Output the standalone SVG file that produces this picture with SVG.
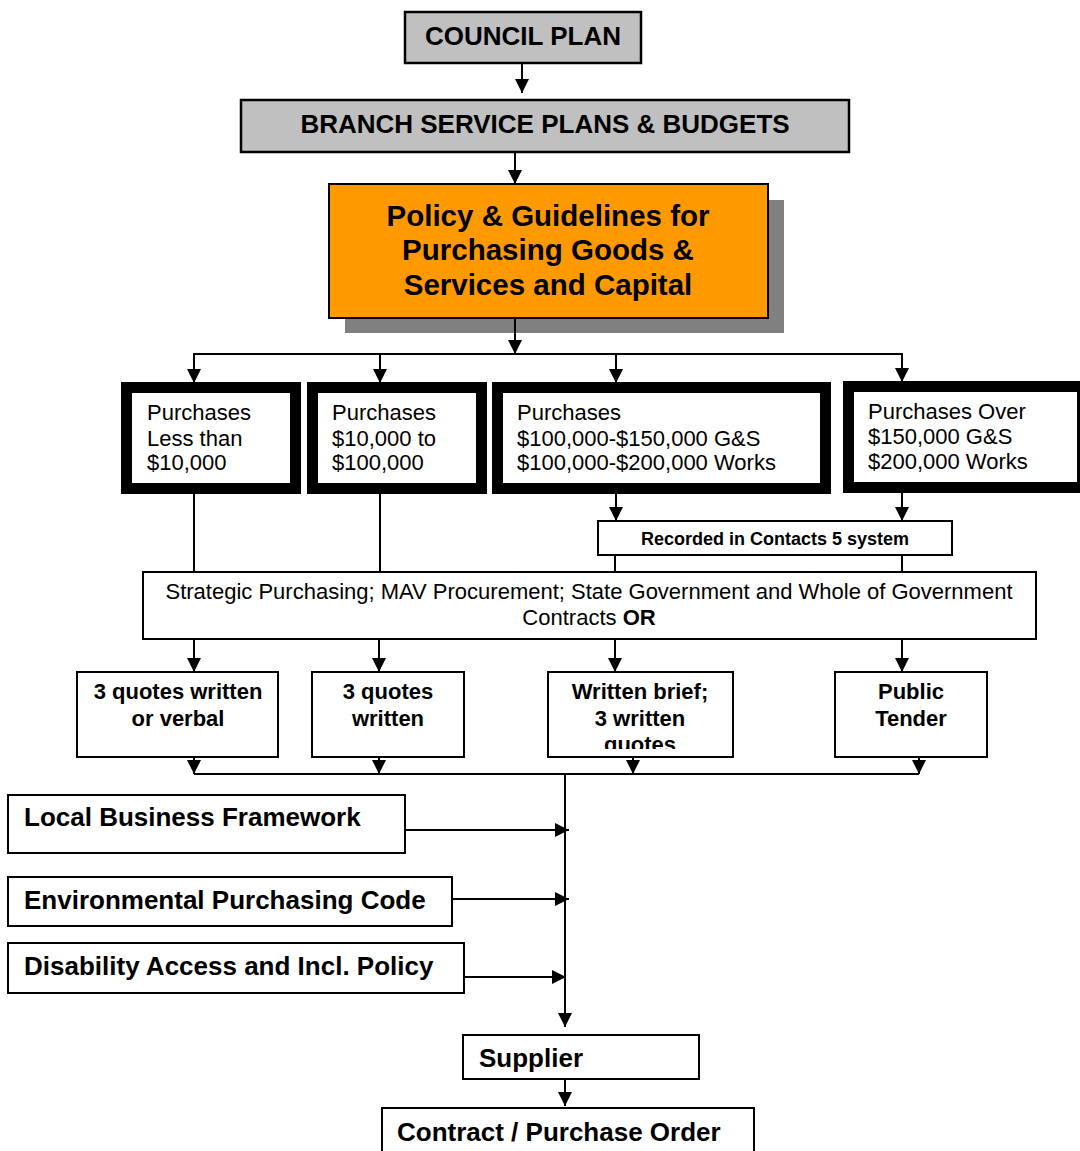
<svg xmlns="http://www.w3.org/2000/svg" width="1080" height="1151" viewBox="0 0 1080 1151">
<style>
  .b { fill: #fff; stroke: #000; stroke-width: 2; }
  .g { fill: #c0c0c0; stroke: #000; stroke-width: 2.5; }
  .thick { fill: #fff; stroke: #000; stroke-width: 11; }
  .t { font-family: "Liberation Sans", Arial, sans-serif; fill: #000; }
  .bold { font-weight: bold; }
  .r22 { font-size: 22px; }
  .b22 { font-size: 22px; font-weight: bold; }
  .b26 { font-size: 26px; font-weight: bold; }
  .c { text-anchor: middle; }
  .ln { fill: none; stroke: #000; stroke-width: 2; }
  .ar { fill: none; stroke: #000; stroke-width: 2; marker-end: url(#ah); }
</style>
<defs>
  <marker id="ah" viewBox="0 0 14 14" refX="14" refY="7" markerWidth="14" markerHeight="14" markerUnits="userSpaceOnUse" orient="auto">
    <path d="M0,0 L14,7 L0,14 z" fill="#000"/>
  </marker>
  <clipPath id="clipC"><rect x="548" y="672" width="185" height="77"/></clipPath>
</defs>
<rect width="1080" height="1151" fill="#fff"/>

<g id="council-plan">
  <rect class="g" x="405" y="12" width="236" height="51"/>
  <text class="t b26 c" x="523" y="45">COUNCIL PLAN</text>
</g>
<g id="branch-plans">
  <rect class="g" x="241" y="100" width="608" height="52"/>
  <text class="t b26 c" x="545" y="133">BRANCH SERVICE PLANS &amp; BUDGETS</text>
</g>
<g id="policy">
  <rect x="345" y="200" width="439" height="133" fill="#808080"/>
  <rect x="329" y="184" width="439" height="134" fill="#ff9900" stroke="#000" stroke-width="2"/>
  <text class="t c bold" font-size="29.5" x="548" y="226">Policy &amp; Guidelines for</text>
  <text class="t c bold" font-size="29.5" x="548" y="260">Purchasing Goods &amp;</text>
  <text class="t c bold" font-size="29.5" x="548" y="295">Services and Capital</text>
</g>
<g id="p-less-10k">
  <rect class="thick" x="126.5" y="387.5" width="169" height="101"/>
  <text class="t r22" x="147" y="420">Purchases</text>
  <text class="t r22" x="147" y="446">Less than</text>
  <text class="t r22" x="147" y="470">$10,000</text>
</g>
<g id="p-10k-100k">
  <rect class="thick" x="312.5" y="387.5" width="169" height="101"/>
  <text class="t r22" x="332" y="420">Purchases</text>
  <text class="t r22" x="332" y="446">$10,000 to</text>
  <text class="t r22" x="332" y="470">$100,000</text>
</g>
<g id="p-100k-200k">
  <rect class="thick" x="497.5" y="387.5" width="328" height="101"/>
  <text class="t r22" x="517" y="420">Purchases</text>
  <text class="t r22" x="517" y="446">$100,000-$150,000 G&amp;S</text>
  <text class="t r22" x="517" y="470">$100,000-$200,000 Works</text>
</g>
<g id="p-over">
  <rect class="thick" x="848.5" y="386.5" width="234" height="101"/>
  <text class="t r22" x="868" y="419">Purchases Over</text>
  <text class="t r22" x="868" y="444">$150,000 G&amp;S</text>
  <text class="t r22" x="868" y="469">$200,000 Works</text>
</g>
<g id="recorded">
  <rect class="b" x="598" y="521" width="354" height="34"/>
  <text class="t c bold" font-size="18" x="775" y="545">Recorded in Contacts 5 system</text>
</g>
<g id="strategic">
  <rect class="b" x="143" y="572" width="893" height="67"/>
  <text class="t r22 c" x="589" y="599">Strategic Purchasing; MAV Procurement; State Government and Whole of Government</text>
  <text class="t r22 c" x="589" y="625">Contracts <tspan font-weight="bold">OR</tspan></text>
</g>
<g id="q-three-verbal">
  <rect class="b" x="77" y="672" width="201" height="85"/>
  <text class="t b22 c" x="178" y="699">3 quotes written</text>
  <text class="t b22 c" x="178" y="726">or verbal</text>
</g>
<g id="q-three-written">
  <rect class="b" x="312" y="672" width="152" height="85"/>
  <text class="t b22 c" x="388" y="699">3 quotes</text>
  <text class="t b22 c" x="388" y="726">written</text>
</g>
<g id="q-brief">
  <rect class="b" x="548" y="672" width="185" height="85"/>
  <g clip-path="url(#clipC)">
    <text class="t b22 c" x="640" y="699">Written brief;</text>
    <text class="t b22 c" x="640" y="726">3 written</text>
    <text class="t b22 c" x="640" y="752">quotes</text>
  </g>
</g>
<g id="q-tender">
  <rect class="b" x="835" y="672" width="152" height="85"/>
  <text class="t b22 c" x="911" y="699">Public</text>
  <text class="t b22 c" x="911" y="726">Tender</text>
</g>
<g id="local-business">
  <rect class="b" x="8" y="795" width="397" height="58"/>
  <text class="t b26" x="24" y="826">Local Business Framework</text>
</g>
<g id="environmental">
  <rect class="b" x="8" y="877" width="444" height="49"/>
  <text class="t b26" x="24" y="909">Environmental Purchasing Code</text>
</g>
<g id="disability">
  <rect class="b" x="8" y="943" width="456" height="50"/>
  <text class="t b26" x="24" y="975">Disability Access and Incl. Policy</text>
</g>
<g id="supplier">
  <rect class="b" x="463" y="1035" width="236" height="44"/>
  <text class="t b26" x="479" y="1067">Supplier</text>
</g>
<g id="contract">
  <rect class="b" x="382" y="1108" width="372" height="60"/>
  <text class="t b26" x="397" y="1141">Contract / Purchase Order</text>
</g>

<g id="connectors">
  <line class="ar" x1="522" y1="63" x2="522" y2="93"/>
  <line class="ar" x1="515" y1="152" x2="515" y2="184"/>
  <line class="ar" x1="515" y1="318" x2="515" y2="354"/>
  <polyline class="ln" points="194,354 902,354"/>
  <line class="ar" x1="194" y1="353" x2="194" y2="383"/>
  <line class="ar" x1="380" y1="353" x2="380" y2="383"/>
  <line class="ar" x1="616" y1="353" x2="616" y2="383"/>
  <line class="ar" x1="902" y1="353" x2="902" y2="382"/>
  <line class="ln" x1="194" y1="494" x2="194" y2="572"/>
  <line class="ln" x1="380" y1="494" x2="380" y2="572"/>
  <line class="ar" x1="616" y1="494" x2="616" y2="521"/>
  <line class="ar" x1="902" y1="493" x2="902" y2="521"/>
  <line class="ln" x1="615" y1="555" x2="615" y2="572"/>
  <line class="ln" x1="902" y1="555" x2="902" y2="572"/>
  <line class="ar" x1="194" y1="639" x2="194" y2="672"/>
  <line class="ar" x1="379" y1="639" x2="379" y2="672"/>
  <line class="ar" x1="615" y1="639" x2="615" y2="672"/>
  <line class="ar" x1="902" y1="639" x2="902" y2="672"/>
  <line class="ar" x1="194" y1="757" x2="194" y2="774"/>
  <line class="ar" x1="379" y1="757" x2="379" y2="774"/>
  <line class="ar" x1="633" y1="757" x2="633" y2="774"/>
  <line class="ar" x1="919" y1="757" x2="919" y2="774"/>
  <line class="ln" x1="194" y1="774" x2="919" y2="774"/>
  <line class="ar" x1="565" y1="774" x2="565" y2="1027"/>
  <line class="ar" x1="405" y1="830" x2="569" y2="830"/>
  <line class="ar" x1="452" y1="899" x2="569" y2="899"/>
  <line class="ar" x1="464" y1="977" x2="566" y2="977"/>
  <line class="ar" x1="565" y1="1079" x2="565" y2="1106"/>
</g>
</svg>
